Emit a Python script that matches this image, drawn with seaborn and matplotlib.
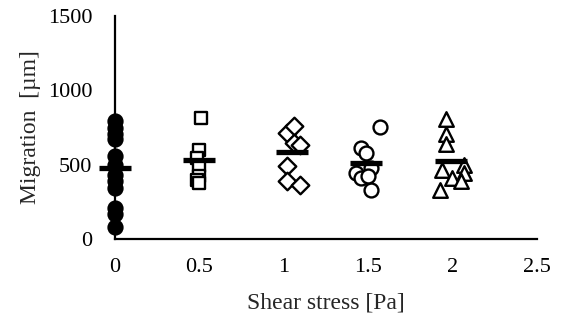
import matplotlib
matplotlib.use("Agg")
import matplotlib.pyplot as plt
import seaborn as sns
import pandas as pd

# Data
x_00 = [0, 0, 0, 0, 0, 0, 0, 0, 0, 0, 0, 0]
y_00 = [794, 749, 704, 670, 557, 501, 433, 388, 343, 208, 170, 80]

x_05 = [0.51, 0.50, 0.49, 0.50, 0.50, 0.49, 0.50]
y_05 = [817, 600, 545, 490, 425, 400, 375]

x_10 = [1.02, 1.06, 1.06, 1.10, 1.02, 1.02, 1.10]
y_10 = [716, 760, 648, 630, 490, 388, 365]

x_15 = [1.57, 1.46, 1.49, 1.43, 1.46, 1.52, 1.52, 1.50]
y_15 = [754, 614, 580, 445, 411, 479, 332, 422]

x_20 = [1.96, 1.96, 1.96, 1.94, 2.07, 2.07, 2.00, 2.05, 1.93]
y_20 = [805, 704, 641, 466, 501, 444, 411, 388, 332]

mean_x = [0, 0.5, 1.05, 1.49, 1.99]
mean_y = [479, 528, 587, 508, 523]

x_ticks = [0, 0.5, 1, 1.5, 2, 2.5]
x_ticklabels = ["0", "0.5", "1", "1.5", "2", "2.5"]
y_ticks = [0, 500, 1000, 1500]

groups = ["0", "0.5", "1", "1.5", "2"]
frames = []
for g, xs, ys in zip(groups, [x_00, x_05, x_10, x_15, x_20], [y_00, y_05, y_10, y_15, y_20]):
    frames.append(pd.DataFrame({"x": xs, "y": ys, "group": g}))
df = pd.concat(frames, ignore_index=True)
means = pd.DataFrame({"x": mean_x, "y": mean_y})

sns.set_style("white")
plt.rcParams["font.family"] = ["Liberation Serif", "DejaVu Serif"]

fig = plt.figure(figsize=(5.61, 3.22), dpi=100)
ax = fig.add_axes([0.2041, 0.2578, 0.7526, 0.6925])

styles = {
    "0": dict(marker="o", facecolor="black", s=100),
    "0.5": dict(marker="s", facecolor="white", s=75),
    "1": dict(marker="D", facecolor="white", s=80),
    "1.5": dict(marker="o", facecolor="white", s=100),
    "2": dict(marker="^", facecolor="white", s=110),
}
for g in groups:
    st = styles[g]
    sns.scatterplot(data=df[df["group"] == g], x="x", y="y", ax=ax,
                    marker=st["marker"], color=st["facecolor"], edgecolor="black",
                    linewidth=1.7, s=st["s"], zorder=3, legend=False, clip_on=False)

sns.scatterplot(data=means, x="x", y="y", ax=ax, marker="_", color="black",
                s=23 ** 2, linewidth=3.8, zorder=4, legend=False, clip_on=False)

ax.set_xlim(0, 2.5)
ax.set_ylim(0, 1500)
ax.set_xticks(x_ticks)
ax.set_xticklabels(x_ticklabels)
ax.set_yticks(y_ticks)
for s in ["top", "right"]:
    ax.spines[s].set_visible(False)
for s in ["left", "bottom"]:
    ax.spines[s].set_color("black")
    ax.spines[s].set_linewidth(1.6)
    ax.spines[s].set_zorder(2)
ax.tick_params(axis="both", direction="in", length=5, width=1.6, colors="black",
               labelsize=16)
ax.tick_params(axis="x", pad=14)
ax.tick_params(axis="y", pad=16)
ax.set_xlabel("Shear stress [Pa]", fontsize=17, labelpad=11)
ax.set_ylabel("Migration  [µm]", fontsize=17, labelpad=5)
ax.grid(False)

fig.savefig("out.png", dpi=100)
